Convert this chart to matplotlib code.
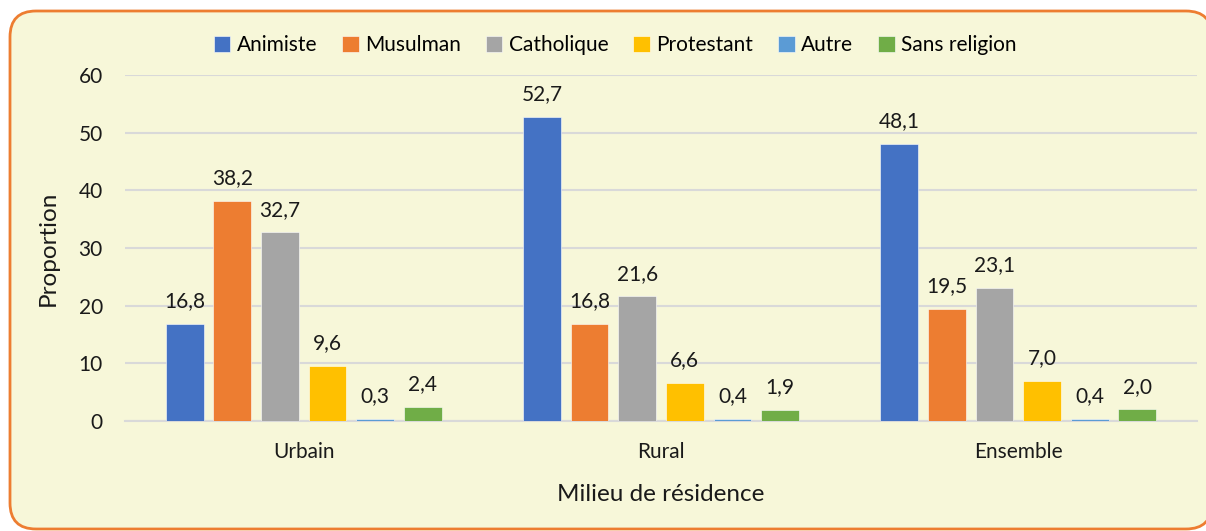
import matplotlib
matplotlib.use("Agg")
import matplotlib.pyplot as plt
from matplotlib.patches import FancyBboxPatch
import numpy as np

categories = ["Urbain", "Rural", "Ensemble"]
series_names = ["Animiste", "Musulman", "Catholique", "Protestant", "Autre", "Sans religion"]
animiste = [16.8, 52.7, 48.1]
musulman = [38.2, 16.8, 19.5]
catholique = [32.7, 21.6, 23.1]
protestant = [9.6, 6.6, 7.0]
autre = [0.3, 0.4, 0.4]
sans_religion = [2.4, 1.9, 2.0]
series_values = [animiste, musulman, catholique, protestant, autre, sans_religion]
colors = ["#4472C4", "#ED7D31", "#A5A5A5", "#FFC000", "#5B9BD5", "#70AD47"]
yticks = [0, 10, 20, 30, 40, 50, 60]

plt.rcParams['font.family'] = ['Lato', 'DejaVu Sans']
bg = "#F7F7D9"

fig = plt.figure(figsize=(12.06, 5.31), dpi=100)
fig.patch.set_facecolor("white")

# background with rounded orange border
bax = fig.add_axes([0, 0, 1, 1], zorder=0)
bax.set_xlim(0, 1206)
bax.set_ylim(531, 0)
bax.axis("off")
bax.add_patch(FancyBboxPatch((10, 11), 1202, 518,
                             boxstyle="round,pad=0,rounding_size=26",
                             facecolor=bg, edgecolor="#ED7D31", linewidth=2))

ax = fig.add_axes([125/1206, 1-421/531, (1197-125)/1206, (421-75)/531], zorder=1)
ax.set_facecolor("none")

x = np.arange(len(categories))
step = 0.1333
width = 0.106
for i, (name, vals, c) in enumerate(zip(series_names, series_values, colors)):
    pos = x + (i - 2.5) * step
    ax.bar(pos, vals, width, color=c, label=name, zorder=3,
           edgecolor="#FFFFFF", linewidth=0.4)
    for p, v in zip(pos, vals):
        ax.text(p, v + 2.2, f"{v:.1f}".replace(".", ","), ha="center", va="bottom",
                fontsize=15, color="#1a1a1a")

ax.set_xlim(-0.5, 2.5)
ax.set_ylim(0, 60)
ax.set_yticks(yticks)
ax.set_yticklabels([str(t) for t in yticks])
ax.set_xticks(x)
ax.set_xticklabels(categories)
ax.grid(axis="y", color="#D9D9D9", linewidth=1.5, zorder=0)
ax.tick_params(axis="both", length=0, labelsize=15, colors="#1a1a1a")
ax.tick_params(axis="y", pad=16)
ax.tick_params(axis="x", pad=15)
for s in ["top", "right", "left"]:
    ax.spines[s].set_visible(False)
ax.spines["bottom"].set_color("#D9D9D9")
ax.spines["bottom"].set_linewidth(1.5)

ax.set_ylabel("Proportion", fontsize=17.5, color="#1a1a1a", labelpad=14)
ax.set_xlabel("Milieu de résidence", fontsize=17.5, color="#1a1a1a", labelpad=16)

ax.legend(loc="center", bbox_to_anchor=(615/1206, 1-45/531), bbox_transform=fig.transFigure,
          ncol=6, frameon=False, fontsize=15, handlelength=0.8, handleheight=0.8,
          handletextpad=0.3, columnspacing=1.2)

fig.savefig("out.png", dpi=100, facecolor="white")
